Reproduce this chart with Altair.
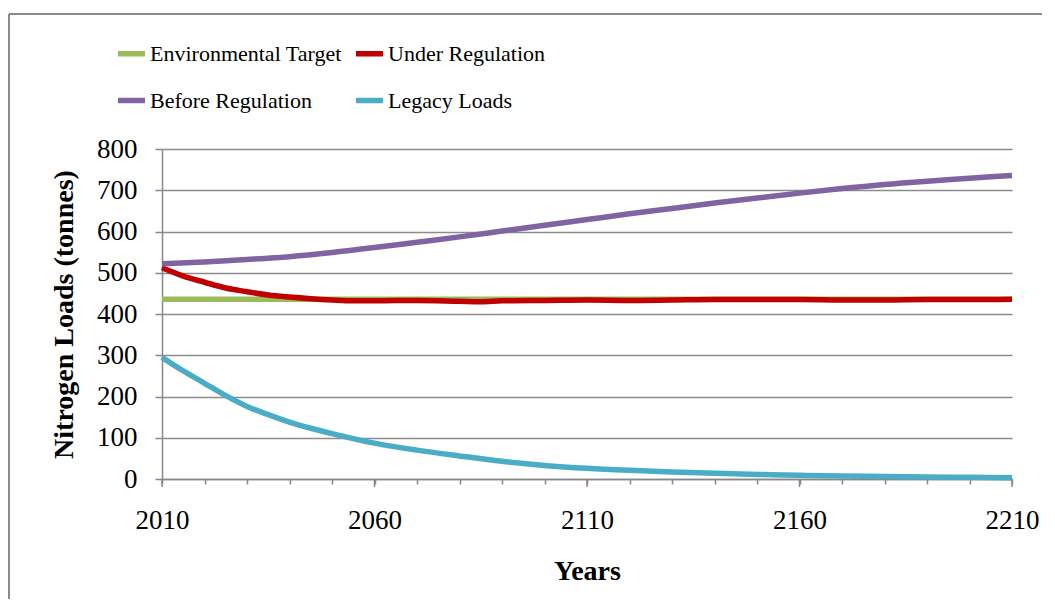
import altair as alt
import pandas as pd

# ---- data ----
series_names = ["Environmental Target", "Under Regulation", "Before Regulation", "Legacy Loads"]
series_colors = ["#9BBB59", "#C00000", "#8064A2", "#4BACC6"]

target_years = [2010, 2210]
target_values = [436, 436]

under_years = [2010, 2015, 2020, 2025, 2030, 2035, 2040, 2045, 2050, 2055, 2060, 2070,
               2080, 2085, 2090, 2100, 2110, 2120, 2130, 2140, 2150, 2160, 2170, 2180,
               2190, 2200, 2210]
under_values = [512, 492, 477, 463, 454, 446, 441, 437, 434, 432, 432, 433,
                431, 430, 432, 433, 434, 433, 434, 435, 435, 435, 434, 434,
                435, 435, 436]

before_years = [2010, 2020, 2030, 2040, 2050, 2060, 2070, 2080, 2090, 2100, 2110,
                2120, 2130, 2140, 2150, 2160, 2170, 2180, 2190, 2200, 2210]
before_values = [522, 526, 532, 539, 549, 561, 574, 587, 601, 615, 629,
                 643, 656, 669, 681, 693, 704, 714, 722, 729, 736]

legacy_years = [2010, 2015, 2020, 2025, 2030, 2035, 2040, 2045, 2050, 2055, 2060,
                2070, 2080, 2090, 2100, 2110, 2120, 2130, 2140, 2150, 2160, 2170,
                2180, 2190, 2200, 2210]
legacy_values = [295, 262, 232, 202, 176, 156, 138, 123, 110, 98, 87,
                 70, 56, 43, 33, 26, 21, 17, 14, 11, 9, 7,
                 6, 5, 4, 3]

minor_ticks = [2010, 2020, 2030, 2040, 2050, 2060, 2070, 2080, 2090, 2100, 2110,
               2120, 2130, 2140, 2150, 2160, 2170, 2180, 2190, 2200, 2210]
major_ticks = [2010, 2060, 2110, 2160, 2210]
y_ticks = [0, 100, 200, 300, 400, 500, 600, 700, 800]

rows = []
for name, ys, vs in [
    (series_names[0], target_years, target_values),
    (series_names[1], under_years, under_values),
    (series_names[2], before_years, before_values),
    (series_names[3], legacy_years, legacy_values),
]:
    for yr, v in zip(ys, vs):
        rows.append({"series": name, "year": yr, "value": v})
df = pd.DataFrame(rows)

FONT = "Liberation Serif"
GRAY = "#878787"

x_scale = alt.Scale(domain=[2010, 2210], nice=False, zero=False)

lines = alt.Chart(df).mark_line(strokeWidth=5.5, interpolate="monotone").encode(
    x=alt.X("year:Q", scale=x_scale,
            axis=alt.Axis(values=minor_ticks, tickSize=5, grid=False,
                          labelExpr="(datum.value - 2010) % 50 == 0 ? format(datum.value, 'd') : ''",
                          labelFlush=False, labelOverlap=False, labelPadding=23,
                          title="Years", titlePadding=24)),
    y=alt.Y("value:Q", scale=alt.Scale(domain=[0, 800], nice=False),
            axis=alt.Axis(values=y_ticks, tickSize=7, grid=True, labelPadding=18,
                          title="Nitrogen Loads (tonnes)", titlePadding=18)),
    color=alt.Color("series:N",
                    scale=alt.Scale(domain=series_names, range=series_colors),
                    legend=alt.Legend(orient="none", legendX=-47, legendY=-112,
                                      columns=2, direction="horizontal",
                                      title=None, symbolType="stroke",
                                      symbolSize=729, symbolStrokeWidth=5.5,
                                      labelFont=FONT, labelFontSize=22,
                                      labelColor="black", labelLimit=400,
                                      labelOffset=2, columnPadding=3,
                                      rowPadding=19, padding=0)),
)

major_df = pd.DataFrame({"year": major_ticks})
majors = alt.Chart(major_df).mark_rule(color=GRAY, strokeWidth=1.5).encode(
    x=alt.X("year:Q", scale=x_scale),
    y=alt.value(330), y2=alt.value(338),
)

frame_df = pd.DataFrame({"k": [0]})
frame_top = alt.Chart(frame_df).mark_rule(color="#8a8a8a", strokeWidth=2).encode(
    x=alt.value(-153), x2=alt.value(900), y=alt.value(-135)
)
frame_left = alt.Chart(frame_df).mark_rule(color="#8a8a8a", strokeWidth=2).encode(
    x=alt.value(-153), y=alt.value(-135), y2=alt.value(470)
)

chart = alt.layer(frame_top, frame_left, lines, majors).properties(
    width=850, height=330,
    autosize=alt.AutoSizeParams(type="none"),
    padding={"left": 154, "top": 141, "right": 30, "bottom": 120},
).configure_view(strokeWidth=0).configure_axis(
    labelFont=FONT, labelFontSize=27, labelColor="black",
    titleFont=FONT, titleFontSize=28, titleFontWeight="bold", titleColor="black",
    domainColor=GRAY, domainWidth=1.5, tickColor=GRAY, tickWidth=1.5,
    gridColor="#8c8c8c", gridWidth=1.3,
)

chart.save("out.html", embed_options={"renderer": "svg", "actions": False})
